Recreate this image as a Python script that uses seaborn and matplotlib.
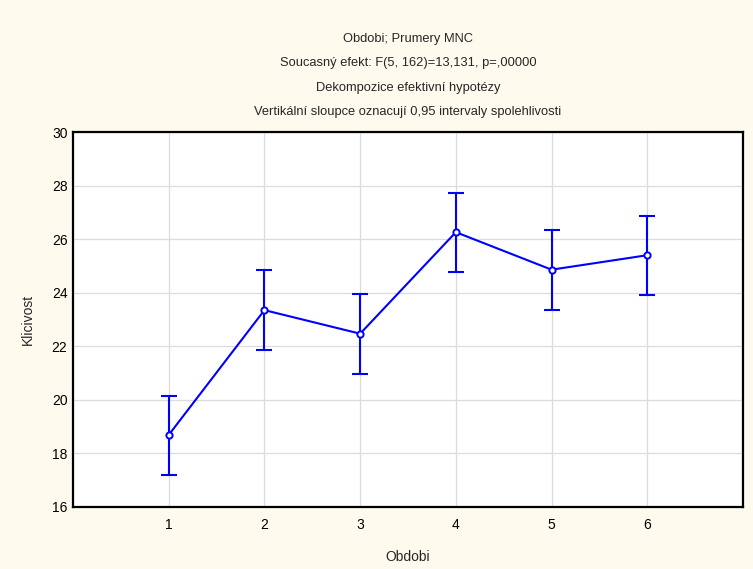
import matplotlib
matplotlib.use("Agg")
import matplotlib.pyplot as plt
import seaborn as sns
import pandas as pd
import numpy as np
from matplotlib import font_manager

periods = [1, 2, 3, 4, 5, 6]
means = [18.69, 23.35, 22.47, 26.26, 24.86, 25.40]
lower = [17.18, 21.87, 20.98, 24.77, 23.37, 23.91]
upper = [20.16, 24.83, 23.95, 27.73, 26.33, 26.87]
title_lines = [
    "Obdobi; Prumery MNC",
    "Soucasný efekt: F(5, 162)=13,131, p=,00000",
    "Dekompozice efektivní hypotézy",
    "Vertikální sloupce oznacují 0,95 intervaly spolehlivosti",
]
x_label = "Obdobi"
y_label = "Klicivost"

sns.set_style("white")
names = {f.name for f in font_manager.fontManager.ttflist}
narrow = "Liberation Sans Narrow" if "Liberation Sans Narrow" in names else "Liberation Sans"
plt.rcParams["font.family"] = ["Liberation Sans", "DejaVu Sans"]

bg = "#FFFAEE"
blue = "#0000FF"

fig = plt.figure(figsize=(7.53, 5.69), dpi=100, facecolor=bg)
ax = fig.add_axes([73 / 753, 1 - 507 / 569, (743 - 73) / 753, (507 - 132) / 569])
ax.set_facecolor("white")

df = pd.DataFrame({"period": periods, "mean": means, "lo": lower, "hi": upper})
yerr = np.vstack([df["mean"] - df["lo"], df["hi"] - df["mean"]])
ax.errorbar(df["period"], df["mean"], yerr=yerr, fmt="none", ecolor=blue,
            elinewidth=1.5, capsize=6, capthick=1.5, zorder=3)
sns.lineplot(data=df, x="period", y="mean", ax=ax, color=blue, linewidth=1.5,
             marker="o", markersize=4.5, markerfacecolor="white",
             markeredgecolor=blue, markeredgewidth=1.4, zorder=4)

ax.set_xlim(0, 7)
ax.set_ylim(16, 30)
ax.set_xticks(periods)
ax.set_yticks(np.arange(16, 31, 2))
ax.grid(True, color="#DCDCDC", linewidth=0.9)
ax.set_axisbelow(True)
for s in ax.spines.values():
    s.set_visible(True)
    s.set_color("black")
    s.set_linewidth(1.6)
ax.tick_params(direction="in", length=4, width=1.2, color="black",
               labelsize=10, labelcolor="black")
ax.tick_params(axis="y", pad=4)
ax.tick_params(axis="x", pad=8)
ax.set_xlabel(x_label, fontsize=10, labelpad=13)
ax.set_ylabel(y_label, fontsize=10, labelpad=12)

ys = [39, 63, 88, 112]
for t, y in zip(title_lines, ys):
    fig.text(0.5 * (73 + 743) / 753, 1 - y / 569, t, ha="center", va="center",
             fontsize=9.3, family=[narrow, "DejaVu Sans"])

fig.savefig("out.png", dpi=100, facecolor=bg)
